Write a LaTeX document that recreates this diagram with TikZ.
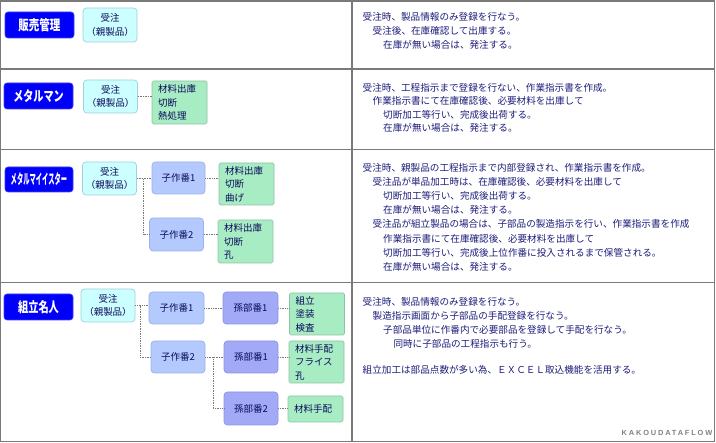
\documentclass[tikz,border=0pt]{standalone}
\usepackage{fontspec}
\usepackage{graphicx}
\setmainfont{Noto Sans CJK JP}
\newfontfamily\wmfont{Liberation Sans}[LetterSpace=25]
\definecolor{labelblue}{RGB}{0,0,250}
\definecolor{juchufill}{RGB}{204,255,255}
\definecolor{juchuline}{RGB}{160,208,216}
\definecolor{kofill}{RGB}{180,202,255}
\definecolor{koline}{RGB}{155,178,232}
\definecolor{magofill}{RGB}{162,170,248}
\definecolor{magoline}{RGB}{140,148,225}
\definecolor{grfill}{RGB}{168,236,196}
\definecolor{grline}{RGB}{140,196,162}
\definecolor{boxtext}{RGB}{10,10,90}
\definecolor{rtext}{RGB}{28,28,122}
\definecolor{gridgray}{RGB}{122,122,122}
\definecolor{linkgray}{RGB}{120,120,120}
\definecolor{wmgray}{RGB}{128,128,128}
\begin{document}
\begin{tikzpicture}[x=1pt,y=-1pt,
  box/.style={draw, rounded corners=3.5pt, line width=0.7pt, inner sep=0pt,
    font=\fontsize{9.5}{13.5}\selectfont, text=boxtext, align=center},
  lab/.style={fill=labelblue, draw=labelblue!75!white, line width=0.6pt, rounded corners=3pt,
    text=white, inner sep=0pt, minimum width=69pt, minimum height=26pt,
    font=\fontsize{14}{14}\selectfont\bfseries},
  juchu/.style={box, fill=juchufill, draw=juchuline, minimum width=54pt, minimum height=33pt},
  kosaku/.style={box, fill=kofill, draw=koline, minimum width=54pt, minimum height=32pt},
  mago/.style={box, fill=magofill, draw=magoline, minimum width=54pt, minimum height=32pt},
  grn/.style={box, rounded corners=1.5pt, fill=grfill, draw=grline, align=left,
    text width=43pt, inner xsep=6pt, minimum height=42pt},
  link/.style={densely dotted, draw=linkgray, line width=0.7pt},
  rt/.style={anchor=west, inner sep=0pt, text=rtext, font=\fontsize{9.6}{12}\selectfont},
  grid/.style={draw=gridgray, line width=1.2pt}
]
\path[use as bounding box] (0,0) rectangle (716,443);
% grid
\draw[grid] (0.8,1) rectangle (714.5,441.5);
\draw[grid] (0.8,69) -- (714.5,69);
\draw[grid] (0.8,149.5) -- (714.5,149.5);
\draw[grid] (0.8,282.5) -- (714.5,282.5);
\draw[grid] (352,1) -- (352,441.5);

% row 1
\node[lab] (L1) at (39.5,25) {\scalebox{0.75}[1]{販売管理}};
\node[juchu, minimum height=34pt] (J1) at (110,25) {受注\\（親製品）};

% row 2
\node[lab] (L2) at (38.5,96) {\scalebox{0.72}[1]{メタルマン}};
\node[juchu] (J2) at (110.5,96.5) {受注\\（親製品）};
\node[grn, minimum height=43pt] (G2) at (179.5,102.5) {材料出庫\\切断\\熱処理};
\draw[link] (J2.east) -- (J2.east -| G2.west);

% row 3
\node[lab, minimum width=68pt, minimum height=25pt] (L3) at (39,179.5) {\scalebox{0.45}[1]{メタルマイイスター}};
\node[juchu] (J3) at (109.5,178.5) {受注\\（親製品）};
\node[kosaku, minimum width=53pt] (K31) at (178.5,178) {子作番1};
\node[grn] (G31) at (246.5,184) {材料出庫\\切断\\曲げ};
\node[kosaku, minimum height=33pt] (K32) at (176.5,234.5) {子作番2};
\node[grn, minimum height=43pt] (G32) at (245.5,241.5) {材料出庫\\切断\\孔};
\draw[link] (J3.east) -- (J3.east -| K31.west);
\draw[link] (J3.east) -- ++(6,0) |- (K32.west);
\draw[link] (K31.east) -- (K31.east -| G31.west);
\draw[link] (K32.east) -- (K32.east -| G32.west);

% row 4
\node[lab] (L4) at (38.5,307) {\scalebox{0.73}[1]{組立名人}};
\node[juchu] (J4) at (108,305.5) {受注\\（親製品）};
\node[kosaku, minimum width=55pt] (K41) at (176.5,308) {子作番1};
\node[mago, minimum width=55pt] (M41) at (250.5,308) {孫部番1};
\node[grn] (G41) at (317,314) {組立\\塗装\\検査};
\node[kosaku] (K42) at (178,357) {子作番2};
\node[mago] (M42) at (251,357) {孫部番1};
\node[grn] (G42) at (316.5,362) {材料手配\\フライス\\孔};
\node[mago, minimum height=33pt] (M43) at (251,408.5) {孫部番2};
\node[grn, minimum height=26pt] (G43) at (315.5,409) {材料手配};
\draw[link] (J4.east) -- (J4.east -| K41.west);
\draw[link] (J4.east) -- ++(5,0) |- (K42.west);
\draw[link] (K41.east) -- (K41.east -| M41.west);
\draw[link] (M41.east) -- (M41.east -| G41.west);
\draw[link] (K42.east) -- (K42.east -| M42.west);
\draw[link] (K42.east) -- ++(8,0) |- (M43.west);
\draw[link] (M42.east) -- (M42.east -| G42.west);
\draw[link] (M43.east) -- (M43.east -| G43.west);

% right texts row 1
\node[rt] (r1a) at (362.5,17) {受注時、製品情報のみ登録を行なう。};
\node[rt] (r1b) at (372.5,31) {受注後、在庫確認して出庫する。};
\node[rt] (r1c) at (383,45) {在庫が無い場合は、発注する。};
% row 2
\node[rt] (r2a) at (362.5,87.5) {受注時、工程指示まで登録を行ない、作業指示書を作成。};
\node[rt] (r2b) at (372.5,101) {作業指示書にて在庫確認後、必要材料を出庫して};
\node[rt] (r2c) at (383,114.5) {切断加工等行い、完成後出荷する。};
\node[rt] (r2d) at (383,128) {在庫が無い場合は、発注する。};
% row 3
\node[rt] (r3a) at (362.5,167.5) {受注時、親製品の工程指示まで内部登録され、作業指示書を作成。};
\node[rt] (r3b) at (372.5,181.7) {受注品が単品加工時は、在庫確認後、必要材料を出庫して};
\node[rt] (r3c) at (383,195.9) {切断加工等行い、完成後出荷する。};
\node[rt] (r3d) at (383,210.1) {在庫が無い場合は、発注する。};
\node[rt] (r3e) at (372.5,224.3) {受注品が組立製品の場合は、子部品の製造指示を行い、作業指示書を作成};
\node[rt] (r3f) at (383,238.5) {作業指示書にて在庫確認後、必要材料を出庫して};
\node[rt] (r3g) at (383,252.7) {切断加工等行い、完成後上位作番に投入されるまで保管される。};
\node[rt] (r3h) at (383,266.9) {在庫が無い場合は、発注する。};
% row 4
\node[rt] (r4a) at (362.5,302) {受注時、製品情報のみ登録を行なう。};
\node[rt] (r4b) at (372.5,315.8) {製造指示画面から子部品の手配登録を行なう。};
\node[rt] (r4c) at (383,329.6) {子部品単位に作番内で必要部品を登録して手配を行なう。};
\node[rt] (r4d) at (393.3,343.4) {同時に子部品の工程指示も行う。};
\node[rt] (r4e) at (362.5,370) {組立加工は部品点数が多い為、ＥＸＣＥＬ取込機能を活用する。};

\node[anchor=east, inner sep=0pt, text=wmgray, font=\wmfont\fontsize{7.4}{8}\selectfont\bfseries] (wm) at (712.5,433) {KAKOUDATAFLOW};
\end{tikzpicture}
\end{document}
